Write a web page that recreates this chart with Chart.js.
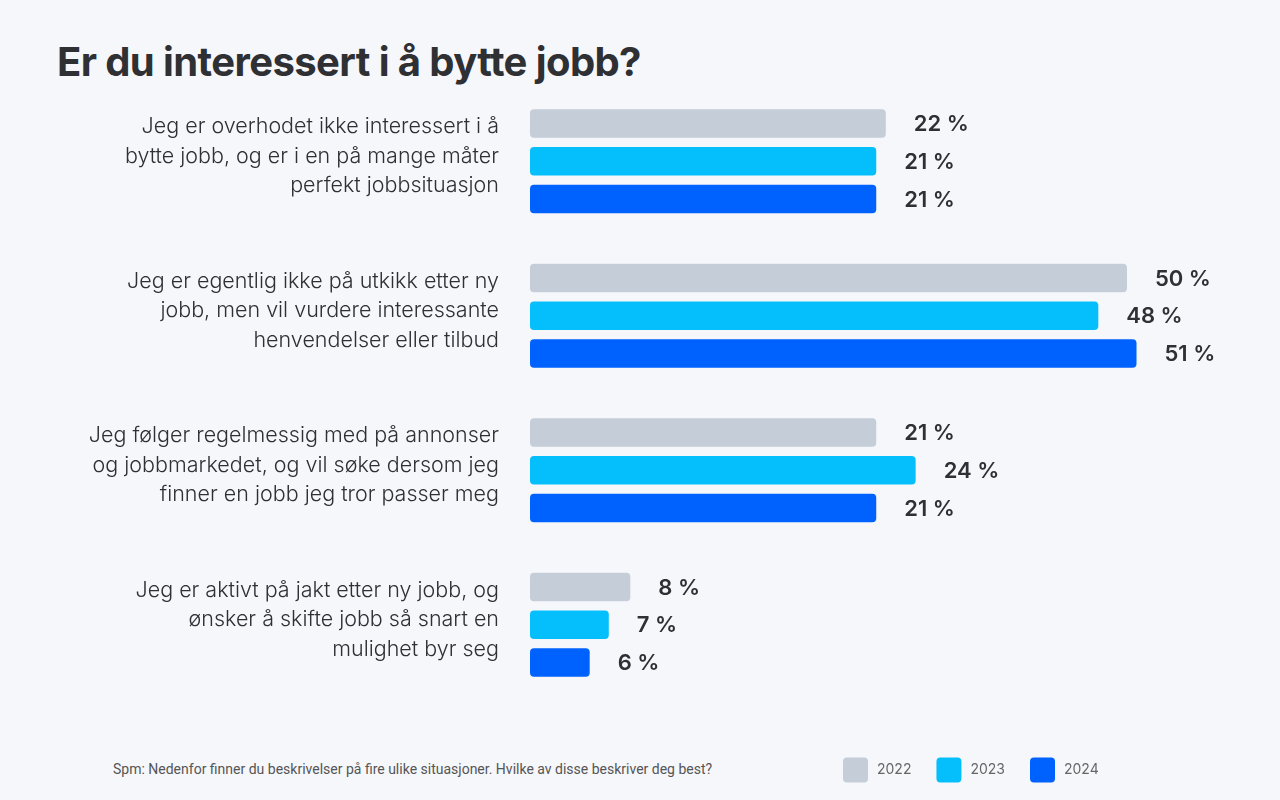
<!DOCTYPE html>
<html>
<head>
<meta charset="utf-8">
<script src="https://cdn.jsdelivr.net/npm/chart.js@4/dist/chart.umd.min.js"></script>
<style>
  html, body { margin: 0; padding: 0; background: #f6f7fb; }
  #wrap { position: relative; width: 1280px; height: 800px; }
  #title { position: absolute; left: 57px; top: 37px; margin: 0; font: 700 40px Inter, sans-serif; letter-spacing: -0.6px; color: #2f3034; }
  #note { position: absolute; left: 113px; top: 761px; font: 400 14px Roboto, sans-serif; color: #555; }
  canvas { position: absolute; left: 0; top: 0; }
</style>
</head>
<body>
<div id="wrap">
  <h1 id="title">Er du interessert i å bytte jobb?</h1>
  <div id="note">Spm: Nedenfor finner du beskrivelser på fire ulike situasjoner. Hvilke av disse beskriver deg best?</div>
  <canvas id="chart" width="1280" height="800"></canvas>
</div>
<script>
const categories = [
  ['Jeg er overhodet ikke interessert i å', 'bytte jobb, og er i en på mange måter', 'perfekt jobbsituasjon'],
  ['Jeg er egentlig ikke på utkikk etter ny', 'jobb, men vil vurdere interessante', 'henvendelser eller tilbud'],
  ['Jeg følger regelmessig med på annonser', 'og jobbmarkedet, og vil søke dersom jeg', 'finner en jobb jeg tror passer meg'],
  ['Jeg er aktivt på jakt etter ny jobb, og', 'ønsker å skifte jobb så snart en', 'mulighet byr seg']
];
const years = ['2022', '2023', '2024'];

// printed percentages
const pct2022 = [22, 50, 21, 8];
const pct2023 = [21, 48, 24, 7];
const pct2024 = [21, 51, 21, 6];

// bar lengths as drawn in the source, in the same scale units (the source does not draw them linearly)
const bar2022 = [29.8, 50.0, 29.0, 8.4];
const bar2023 = [29.0, 47.6, 32.3, 6.6];
const bar2024 = [29.0, 50.8, 29.0, 5.0];

const colors = ['#c5cdd9', '#05bffc', '#0062fe'];
const pctLabels = [pct2022, pct2023, pct2024];

const valueLabels = {
  id: 'valueLabels',
  afterDatasetsDraw(chart) {
    const ctx = chart.ctx;
    ctx.save();
    ctx.font = '600 22px Inter, sans-serif';
    ctx.fillStyle = '#2f3034';
    ctx.textBaseline = 'middle';
    ctx.textAlign = 'left';
    chart.data.datasets.forEach((ds, di) => {
      chart.getDatasetMeta(di).data.forEach((el, i) => {
        ctx.fillText(pctLabels[di][i] + ' %', el.x + 28, el.y + 1);
      });
    });
    ctx.restore();
  }
};

const customLegend = {
  id: 'customLegend',
  afterDraw(chart) {
    const ctx = chart.ctx;
    ctx.save();
    ctx.font = '400 14px Inter, sans-serif';
    ctx.textBaseline = 'middle';
    let x = 843;
    const y = 770;
    chart.data.datasets.forEach(ds => {
      ctx.fillStyle = ds.backgroundColor;
      ctx.beginPath();
      ctx.roundRect(x, y - 12.5, 25, 25, 4);
      ctx.fill();
      ctx.fillStyle = '#666';
      ctx.fillText(ds.label, x + 34, y);
      x += 34 + ctx.measureText(ds.label).width + 25;
    });
    ctx.restore();
  }
};

new Chart(document.getElementById('chart'), {
  type: 'bar',
  data: {
    labels: categories,
    datasets: [
      { label: years[0], data: bar2022, backgroundColor: colors[0] },
      { label: years[1], data: bar2023, backgroundColor: colors[1] },
      { label: years[2], data: bar2024, backgroundColor: colors[2] }
    ]
  },
  options: {
    indexAxis: 'y',
    responsive: false,
    animation: false,
    layout: { padding: { top: 84, bottom: 98, left: 0, right: 50 } },
    datasets: {
      bar: { categoryPercentage: 0.732, barPercentage: 0.756, borderRadius: 4, borderSkipped: false }
    },
    scales: {
      x: { display: false, min: 0, max: 58.63 },
      y: {
        grid: { display: false },
        border: { display: false },
        afterFit(scale) { scale.width = 530; },
        ticks: {
          padding: 23,
          labelOffset: -5,
          color: '#2f3034',
          font: { family: 'Inter', size: 21.5, weight: 300, lineHeight: 1.37 }
        }
      }
    },
    plugins: {
      legend: { display: false },
      tooltip: { enabled: false }
    }
  },
  plugins: [valueLabels, customLegend]
});
</script>
</body>
</html>
